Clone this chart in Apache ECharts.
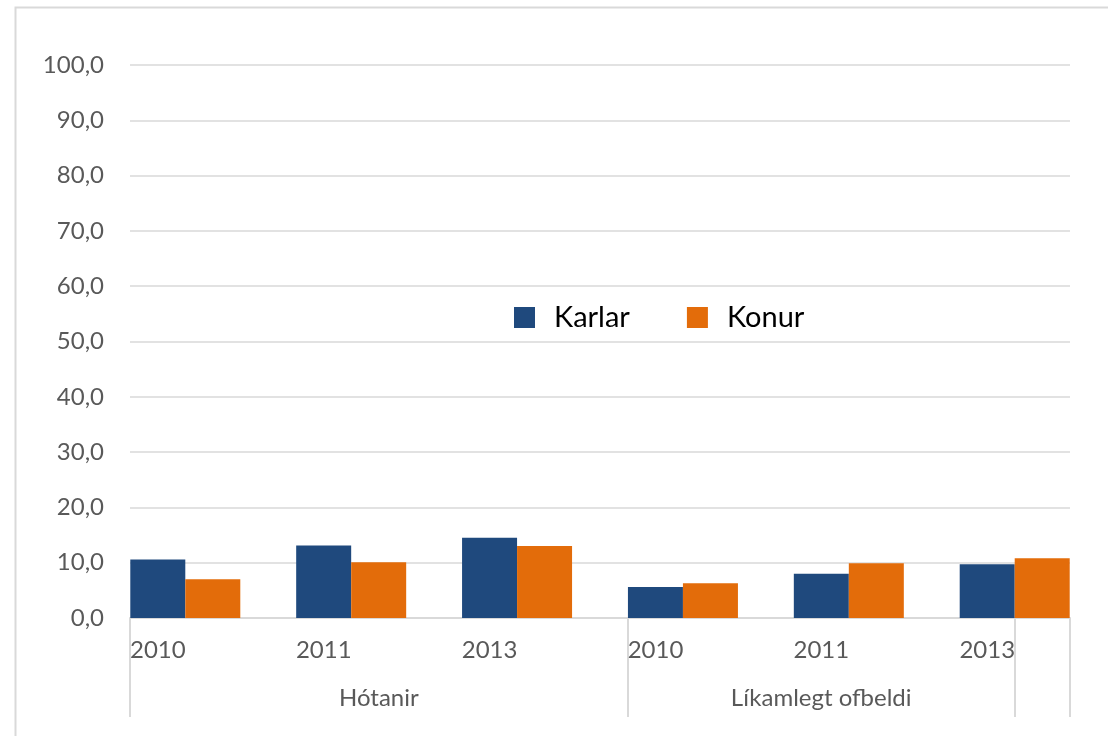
<!DOCTYPE html>
<html>
<head>
<meta charset="utf-8">
<script src="https://cdn.jsdelivr.net/npm/echarts@6/dist/echarts.min.js"></script>
<style>
html,body{margin:0;padding:0;background:#fff;}
#chart{width:1108px;height:736px;}
</style>
</head>
<body>
<div id="chart"></div>
<script>
// ---- data ----
var years = ['2010', '2011', '2013', '2010', '2011', '2013'];
var groups = ['Hótanir', 'Líkamlegt ofbeldi'];
var groupSpans = [[0, 2], [3, 5]];           // category index ranges per group
var karlar = [10.6, 13.1, 14.5, 5.6, 8.0, 9.7];
var konur  = [7.0, 10.1, 13.0, 6.3, 9.9, 10.8];
var yTicks = [0, 100, 10];                    // min, max, interval

var HALF = 1 / 3;   // half of a bar pair, in category units
var MIN = -HALF, MAX = years.length - 1 + HALF;
var FONT = "'Century Gothic', Lato, 'DejaVu Sans', sans-serif";
var GREY = '#d9d9d9', TXT = '#595959';

var yearStarts = years.map(function (y, i) { return i - HALF; });
var groupBounds = [MIN, groupSpans[1][0] - HALF, groupSpans[1][1], MAX];
var groupCenters = [(groupBounds[0] + groupBounds[1]) / 2, (groupBounds[1] + groupBounds[2]) / 2];

function fmtNum(v) { return v.toFixed(1).replace('.', ','); }

var chart = echarts.init(document.getElementById('chart'), null, {renderer: 'canvas'});
chart.setOption({
  backgroundColor: '#fff',
  animation: false,
  graphic: [{
    type: 'rect', left: 13, top: 5,
    shape: {width: 1200, height: 900},
    style: {fill: 'none', stroke: GREY, lineWidth: 2},
    silent: true
  }],
  legend: {
    left: 514, top: 303, padding: 0,
    icon: 'rect', itemWidth: 21, itemHeight: 21, itemGap: 57,
    textStyle: {fontFamily: FONT, fontSize: 29, color: '#000', padding: [0, 0, 0, 14]},
    data: ['Karlar', 'Konur']
  },
  grid: {left: 130, right: 38, top: 65, bottom: 118, containLabel: false},
  xAxis: [{
    type: 'value', min: MIN, max: MAX, position: 'bottom',
    axisLine: {show: true, onZero: false, lineStyle: {color: GREY, width: 2}},
    axisTick: {show: false},
    splitLine: {show: false},
    axisLabel: {
      customValues: yearStarts,
      align: 'left', margin: 20,
      fontFamily: FONT, fontSize: 24, color: TXT,
      formatter: function (v) { return years[Math.round(v + HALF)]; }
    }
  }, {
    type: 'value', min: MIN, max: MAX, position: 'bottom',
    axisLine: {show: false, onZero: false},
    axisTick: {show: true, customValues: groupBounds, length: 99, lineStyle: {color: GREY, width: 2}},
    splitLine: {show: false},
    axisLabel: {
      customValues: groupCenters,
      align: 'center', margin: 68,
      fontFamily: FONT, fontSize: 24, color: TXT,
      formatter: function (v) { return v < groupBounds[1] ? groups[0] : groups[1]; }
    }
  }],
  yAxis: {
    type: 'value', min: yTicks[0], max: yTicks[1], interval: yTicks[2],
    axisLine: {show: false}, axisTick: {show: false},
    splitLine: {lineStyle: {color: GREY, width: 1.5}},
    axisLabel: {margin: 26, fontFamily: FONT, fontSize: 24, color: TXT, formatter: fmtNum}
  },
  series: [{
    name: 'Karlar', type: 'bar', xAxisIndex: 0,
    barWidth: 55, barGap: '0%',
    itemStyle: {color: '#1F497D'},
    data: karlar.map(function (v, i) { return [i, v]; })
  }, {
    name: 'Konur', type: 'bar', xAxisIndex: 0,
    barWidth: 55, barGap: '0%',
    itemStyle: {color: '#E36C0A'},
    data: konur.map(function (v, i) { return [i, v]; })
  }]
});
</script>
</body>
</html>
